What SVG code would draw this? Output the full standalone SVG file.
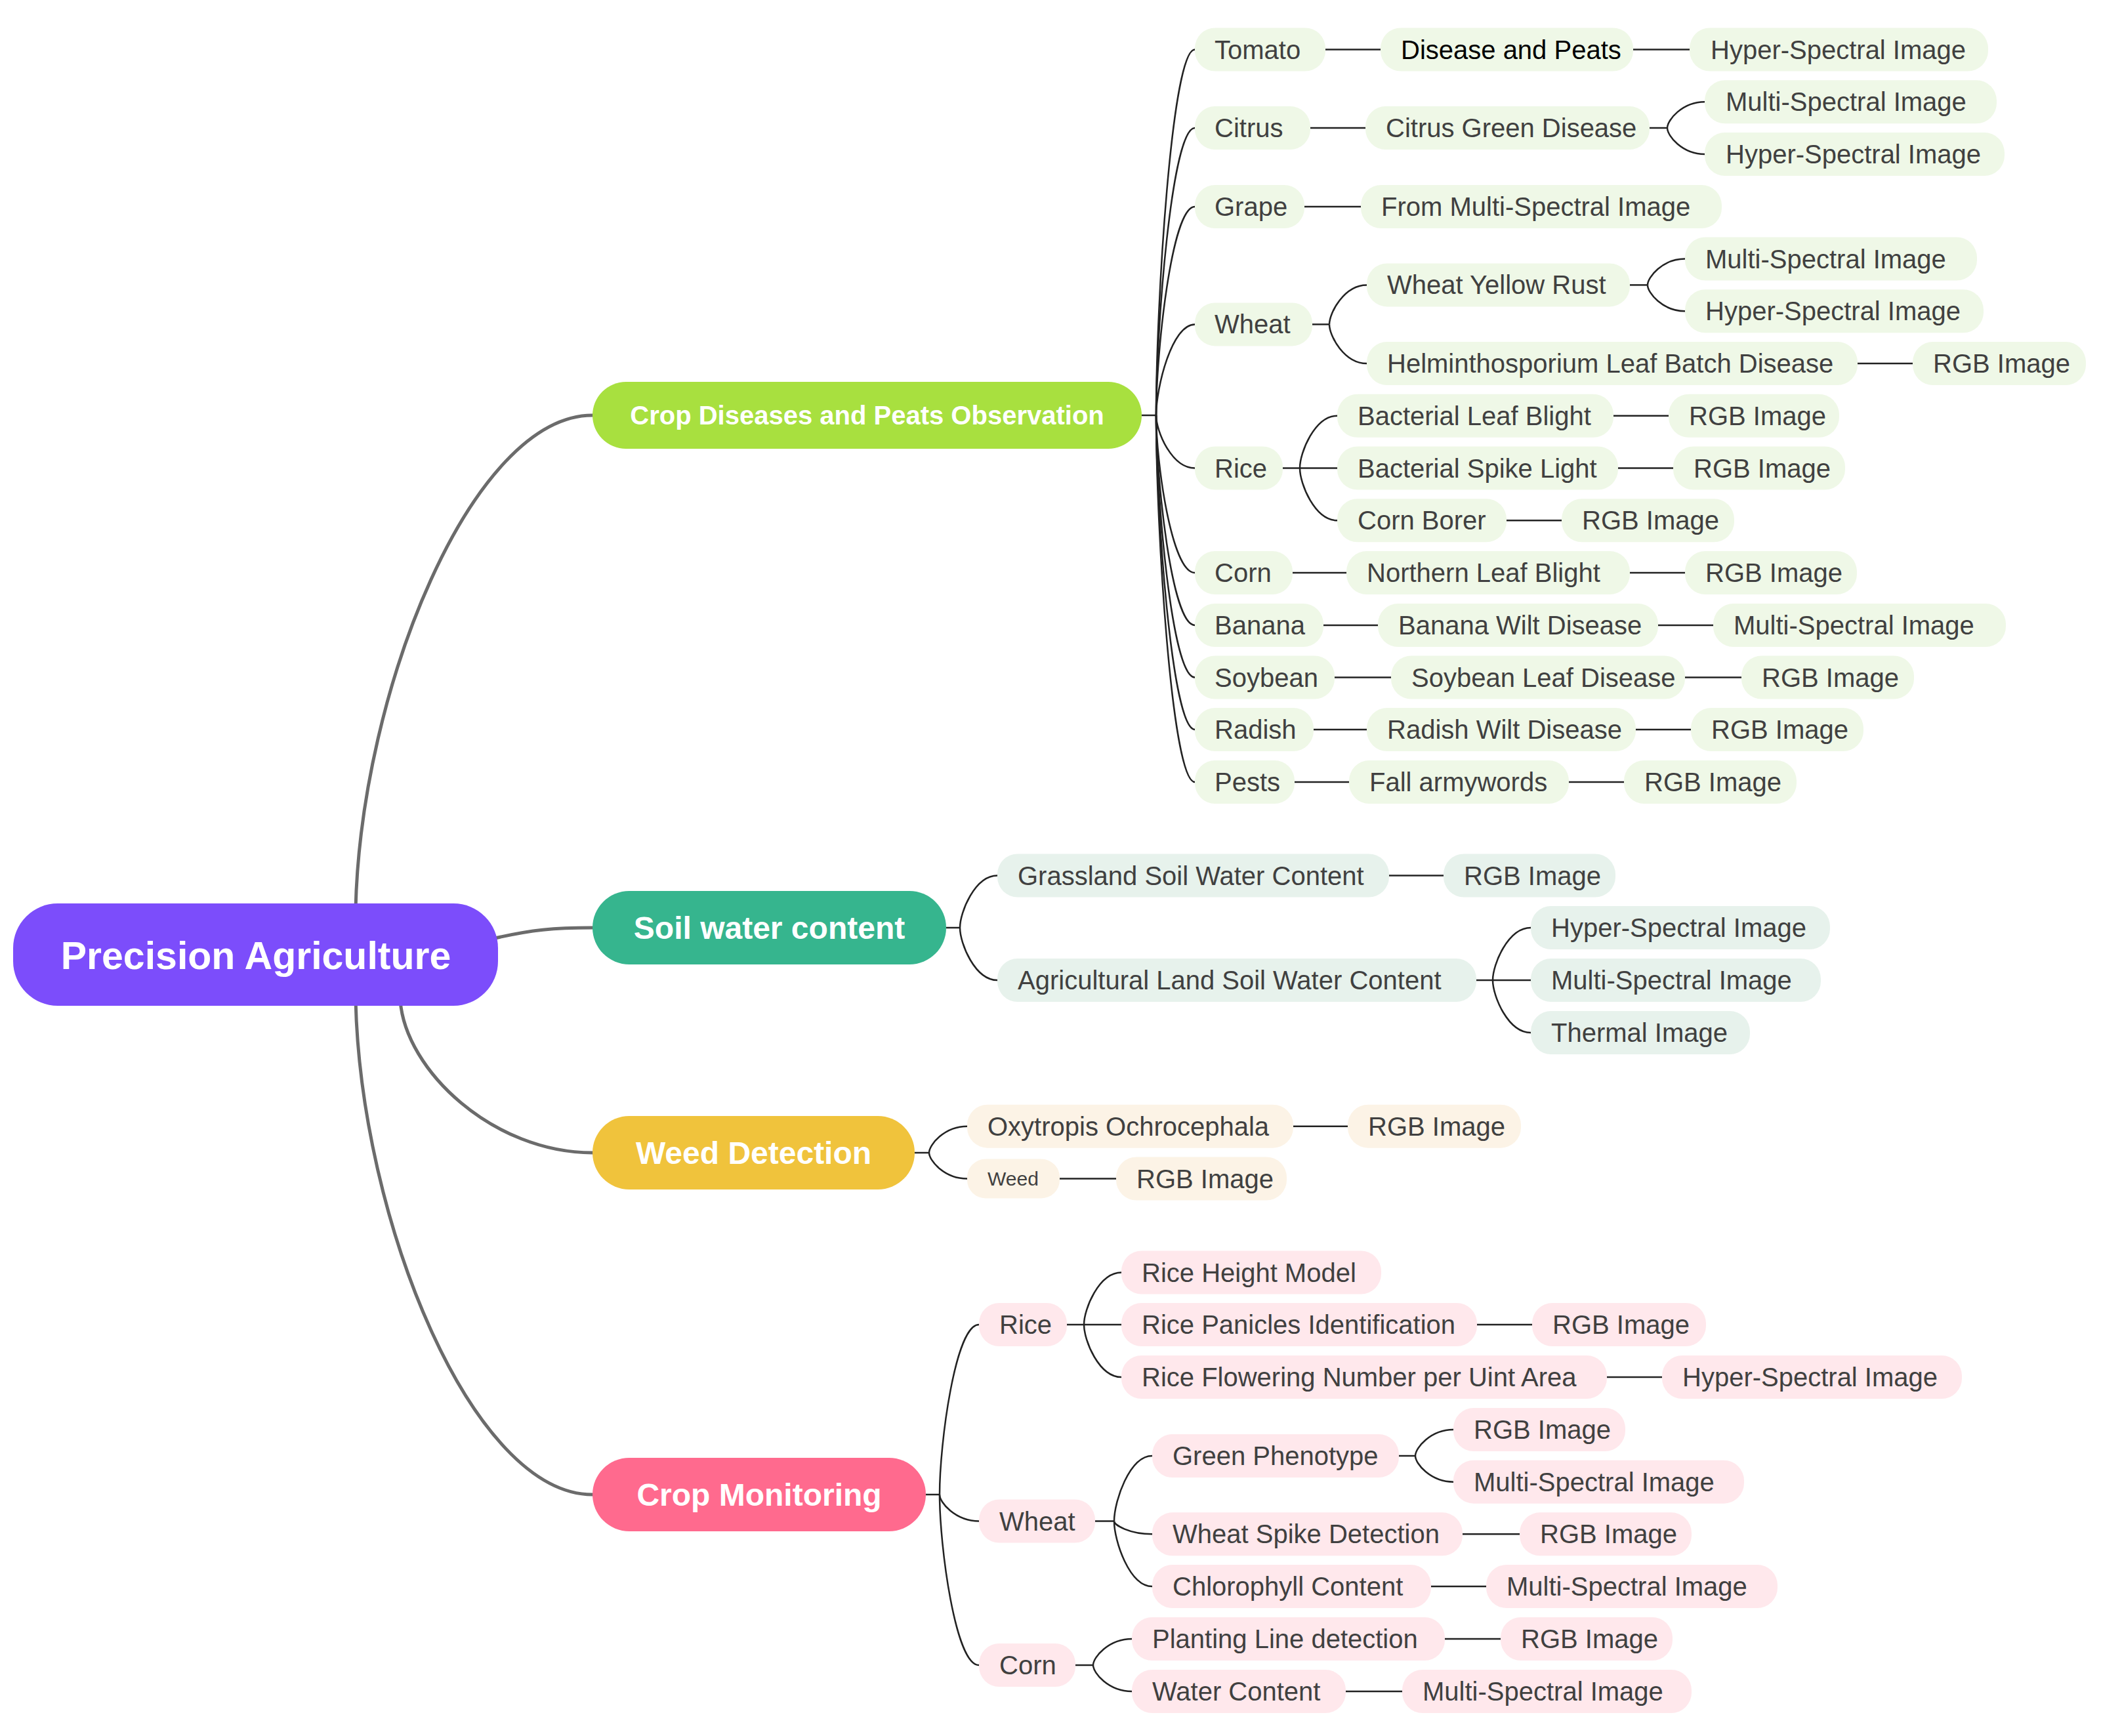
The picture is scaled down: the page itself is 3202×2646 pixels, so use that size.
<svg xmlns="http://www.w3.org/2000/svg" width="3202" height="2646" viewBox="0 0 3202 2646">
<style>
.bg{fill:#ffffff}
.c1{fill:none;stroke:#6b6b6b;stroke-width:5;stroke-linecap:round}
.c2{fill:none;stroke:#222222;stroke-width:2.5}
.t{font-family:"Liberation Sans",Arial,sans-serif;font-size:40px;fill:#404040}
.tk{fill:#000000}
.ts{font-size:30px}
.tb{font-family:"Liberation Sans",Arial,sans-serif;font-weight:bold;fill:#ffffff;text-anchor:middle}
.g rect{fill:#eff8e7}
.s rect{fill:#e7f2ec}
.w rect{fill:#fcf3e6}
.m rect{fill:#ffe8ec}
</style>
<rect class="bg" x="0" y="0" width="3202" height="2646"/>
<g id="connectors">
<g id="root-links">
<path class="c1" d="M542 1385 C550 1050 720 633 903 633"/>
<path class="c1" d="M750 1431 C810 1417 845 1414 903 1414"/>
<path class="c1" d="M610 1525 C618 1632 752 1757 903 1757"/>
<path class="c1" d="M542 1525 C550 1861 720 2278 903 2278"/>
</g>
<g id="cd-links">
<path class="c2" d="M1740 633 H1762"/>
<path class="c2" d="M1762 633 C1762 465.75 1785.6 75.5 1821 75.5"/>
<path class="c2" d="M1762 633 C1762 501.6 1785.6 195 1821 195"/>
<path class="c2" d="M1762 633 C1762 537.6 1785.6 315 1821 315"/>
<path class="c2" d="M1762 633 C1762 591.4 1785.6 494.4 1821 494.4"/>
<path class="c2" d="M1762 633 C1762 657.2 1785.6 713.5 1821 713.5"/>
<path class="c2" d="M1762 633 C1762 705 1785.6 873 1821 873"/>
<path class="c2" d="M1762 633 C1762 729 1785.6 953 1821 953"/>
<path class="c2" d="M1762 633 C1762 752.9 1785.6 1032.5 1821 1032.5"/>
<path class="c2" d="M1762 633 C1762 776.7 1785.6 1112 1821 1112"/>
<path class="c2" d="M1762 633 C1762 800.7 1785.6 1192 1821 1192"/>
<path class="c2" d="M2020 75.5 H2104 M2489 75.5 H2575"/>
<path class="c2" d="M1997 195 H2081 M2514 195 H2541"/>
<path class="c2" d="M2541 195 C2541 183.1 2563.8 155.25 2598 155.25"/>
<path class="c2" d="M2541 195 C2541 207 2563.8 235 2598 235"/>
<path class="c2" d="M1988 315 H2074"/>
<path class="c2" d="M2000 494.4 H2026"/>
<path class="c2" d="M2026 494.4 C2026 476.4 2048.8 434.4 2083 434.4"/>
<path class="c2" d="M2026 494.4 C2026 512.3 2048.8 554 2083 554"/>
<path class="c2" d="M2484 434.4 H2511"/>
<path class="c2" d="M2511 434.4 C2511 422.4 2533.8 394.5 2568 394.5"/>
<path class="c2" d="M2511 434.4 C2511 446.4 2533.8 474.25 2568 474.25"/>
<path class="c2" d="M2831 554 H2915"/>
<path class="c2" d="M1955 713.5 H2038"/>
<path class="c2" d="M1981 713.5 C1981 689.6 2003.8 633.75 2038 633.75"/>
<path class="c2" d="M1981 713.5 C1981 737.4 2003.8 793.25 2038 793.25"/>
<path class="c2" d="M2459 633.75 H2543 M2466 713.5 H2550 M2296 793.25 H2380"/>
<path class="c2" d="M1970 873 H2052 M2484 873 H2568"/>
<path class="c2" d="M2017 953 H2100 M2527 953 H2611"/>
<path class="c2" d="M2034 1032.5 H2120 M2568 1032.5 H2654"/>
<path class="c2" d="M2002 1112 H2083 M2493 1112 H2577"/>
<path class="c2" d="M1973 1192 H2056 M2391 1192 H2475"/>
</g>
<g id="soil-links">
<path class="c2" d="M1442 1414 H1463"/>
<path class="c2" d="M1463 1414 C1463 1390.2 1485.8 1334.5 1520 1334.5"/>
<path class="c2" d="M1463 1414 C1463 1438 1485.8 1494 1520 1494"/>
<path class="c2" d="M2117 1334.5 H2200"/>
<path class="c2" d="M2250 1494 H2333"/>
<path class="c2" d="M2275 1494 C2275 1470 2298.2 1414 2333 1414"/>
<path class="c2" d="M2275 1494 C2275 1518 2298.2 1574 2333 1574"/>
</g>
<g id="weed-links">
<path class="c2" d="M1394 1757 H1416"/>
<path class="c2" d="M1416 1757 C1416 1744.9 1439.2 1716.7 1474 1716.7"/>
<path class="c2" d="M1416 1757 C1416 1768.9 1439.2 1796.5 1474 1796.5"/>
<path class="c2" d="M1971 1716.7 H2054 M1615 1796.5 H1701"/>
</g>
<g id="cm-links">
<path class="c2" d="M1411 2278 H1432"/>
<path class="c2" d="M1432 2278 C1432 2200.3 1456 2019 1492 2019"/>
<path class="c2" d="M1432 2278 C1432 2290.2 1456 2318.5 1492 2318.5"/>
<path class="c2" d="M1432 2278 C1432 2356 1456 2538 1492 2538"/>
<path class="c2" d="M1626 2019 H1709"/>
<path class="c2" d="M1652 2019 C1652 1995.2 1674.8 1939.5 1709 1939.5"/>
<path class="c2" d="M1652 2019 C1652 2043 1674.8 2099 1709 2099"/>
<path class="c2" d="M2251 2019 H2335 M2449 2099 H2533"/>
<path class="c2" d="M1669 2318.5 H1698"/>
<path class="c2" d="M1698 2318.5 C1698 2288.7 1721.2 2219 1756 2219"/>
<path class="c2" d="M1698 2318.5 C1698 2324.4 1721.2 2338.3 1756 2338.3"/>
<path class="c2" d="M1698 2318.5 C1698 2348.4 1721.2 2418 1756 2418"/>
<path class="c2" d="M2132 2219 H2157"/>
<path class="c2" d="M2157 2219 C2157 2207 2180.2 2179 2215 2179"/>
<path class="c2" d="M2157 2219 C2157 2230.9 2180.2 2258.7 2215 2258.7"/>
<path class="c2" d="M2229 2338.3 H2316 M2181 2418 H2265"/>
<path class="c2" d="M1639 2538 H1666"/>
<path class="c2" d="M1666 2538 C1666 2526 1689.6 2498 1725 2498"/>
<path class="c2" d="M1666 2538 C1666 2550 1689.6 2578 1725 2578"/>
<path class="c2" d="M2202 2498 H2287 M2051 2578 H2137"/>
</g>
</g>

<g id="n-root"><rect x="20" y="1377" width="739" height="156" rx="68" fill="#7c4dfb"/><text class="tb" x="390" y="1477" font-size="59">Precision Agriculture</text></g>
<g id="n-cd"><rect x="903" y="582" width="837" height="102" rx="51" fill="#a8e03f"/><text class="tb" x="1321.5" y="647" font-size="40">Crop Diseases and Peats Observation</text></g>
<g id="n-soil"><rect x="903" y="1358" width="539" height="112" rx="56" fill="#36b58e"/><text class="tb" x="1172.5" y="1431" font-size="48">Soil water content</text></g>
<g id="n-weed"><rect x="903" y="1701" width="491" height="112" rx="56" fill="#f0c33c"/><text class="tb" x="1148.5" y="1774" font-size="48">Weed Detection</text></g>
<g id="n-cm"><rect x="903" y="2222" width="508" height="112" rx="56" fill="#ff6a8e"/><text class="tb" x="1157" y="2295" font-size="48">Crop Monitoring</text></g>

<g class="g">
<g id="n-tomato"><rect x="1821" y="42.5" width="199" height="66" rx="31"/><text class="t" x="1851" y="89.5">Tomato</text></g>
<g id="n-tomato-dp"><rect x="2104" y="42.5" width="385" height="66" rx="31"/><text class="t tk" x="2135" y="89.5">Disease and Peats</text></g>
<g id="n-tomato-hs"><rect x="2575" y="42.5" width="455" height="66" rx="31"/><text class="t" x="2607" y="89.5">Hyper-Spectral Image</text></g>
<g id="n-citrus"><rect x="1821" y="162" width="176" height="66" rx="31"/><text class="t" x="1851" y="209">Citrus</text></g>
<g id="n-citrus-cgd"><rect x="2081" y="162" width="433" height="66" rx="31"/><text class="t" x="2112" y="209">Citrus Green Disease</text></g>
<g id="n-citrus-ms"><rect x="2598" y="122.25" width="445" height="66" rx="31"/><text class="t" x="2630" y="169.25">Multi-Spectral Image</text></g>
<g id="n-citrus-hs"><rect x="2598" y="202" width="457" height="66" rx="31"/><text class="t" x="2630" y="249">Hyper-Spectral Image</text></g>
<g id="n-grape"><rect x="1821" y="282" width="167" height="66" rx="31"/><text class="t" x="1851" y="329">Grape</text></g>
<g id="n-grape-fms"><rect x="2074" y="282" width="550" height="66" rx="31"/><text class="t" x="2105" y="329">From Multi-Spectral Image</text></g>
<g id="n-wheat"><rect x="1821" y="461.4" width="179" height="66" rx="31"/><text class="t" x="1851" y="508.4">Wheat</text></g>
<g id="n-wheat-wyr"><rect x="2083" y="401.4" width="401" height="66" rx="31"/><text class="t" x="2114" y="448.4">Wheat Yellow Rust</text></g>
<g id="n-wheat-wyr-ms"><rect x="2568" y="361.5" width="445" height="66" rx="31"/><text class="t" x="2599" y="408.5">Multi-Spectral Image</text></g>
<g id="n-wheat-wyr-hs"><rect x="2568" y="441.25" width="455" height="66" rx="31"/><text class="t" x="2599" y="488.25">Hyper-Spectral Image</text></g>
<g id="n-wheat-hlb"><rect x="2083" y="521" width="748" height="66" rx="31"/><text class="t" x="2114" y="568">Helminthosporium Leaf Batch Disease</text></g>
<g id="n-wheat-hlb-rgb"><rect x="2915" y="521" width="264" height="66" rx="31"/><text class="t" x="2946" y="568">RGB Image</text></g>
<g id="n-rice"><rect x="1821" y="680.5" width="134" height="66" rx="31"/><text class="t" x="1851" y="727.5">Rice</text></g>
<g id="n-rice-blb"><rect x="2038" y="600.75" width="421" height="66" rx="31"/><text class="t" x="2069" y="647.75">Bacterial Leaf Blight</text></g>
<g id="n-rice-blb-rgb"><rect x="2543" y="600.75" width="260" height="66" rx="31"/><text class="t" x="2574" y="647.75">RGB Image</text></g>
<g id="n-rice-bsl"><rect x="2038" y="680.5" width="428" height="66" rx="31"/><text class="t" x="2069" y="727.5">Bacterial Spike Light</text></g>
<g id="n-rice-bsl-rgb"><rect x="2550" y="680.5" width="262" height="66" rx="31"/><text class="t" x="2581" y="727.5">RGB Image</text></g>
<g id="n-rice-cb"><rect x="2038" y="760.25" width="258" height="66" rx="31"/><text class="t" x="2069" y="807.25">Corn Borer</text></g>
<g id="n-rice-cb-rgb"><rect x="2380" y="760.25" width="263" height="66" rx="31"/><text class="t" x="2411" y="807.25">RGB Image</text></g>
<g id="n-corn"><rect x="1821" y="840" width="149" height="66" rx="31"/><text class="t" x="1851" y="887">Corn</text></g>
<g id="n-corn-nlb"><rect x="2052" y="840" width="432" height="66" rx="31"/><text class="t" x="2083" y="887">Northern Leaf Blight</text></g>
<g id="n-corn-nlb-rgb"><rect x="2568" y="840" width="262" height="66" rx="31"/><text class="t" x="2599" y="887">RGB Image</text></g>
<g id="n-banana"><rect x="1821" y="920" width="196" height="66" rx="31"/><text class="t" x="1851" y="967">Banana</text></g>
<g id="n-banana-bwd"><rect x="2100" y="920" width="427" height="66" rx="31"/><text class="t" x="2131" y="967">Banana Wilt Disease</text></g>
<g id="n-banana-bwd-ms"><rect x="2611" y="920" width="446" height="66" rx="31"/><text class="t" x="2642" y="967">Multi-Spectral Image</text></g>
<g id="n-soybean"><rect x="1821" y="999.5" width="213" height="66" rx="31"/><text class="t" x="1851" y="1046.5">Soybean</text></g>
<g id="n-soybean-sld"><rect x="2120" y="999.5" width="448" height="66" rx="31"/><text class="t" x="2151" y="1046.5">Soybean Leaf Disease</text></g>
<g id="n-soybean-sld-rgb"><rect x="2654" y="999.5" width="263" height="66" rx="31"/><text class="t" x="2685" y="1046.5">RGB Image</text></g>
<g id="n-radish"><rect x="1821" y="1079" width="181" height="66" rx="31"/><text class="t" x="1851" y="1126">Radish</text></g>
<g id="n-radish-rwd"><rect x="2083" y="1079" width="410" height="66" rx="31"/><text class="t" x="2114" y="1126">Radish Wilt Disease</text></g>
<g id="n-radish-rwd-rgb"><rect x="2577" y="1079" width="263" height="66" rx="31"/><text class="t" x="2608" y="1126">RGB Image</text></g>
<g id="n-pests"><rect x="1821" y="1159" width="152" height="66" rx="31"/><text class="t" x="1851" y="1206">Pests</text></g>
<g id="n-pests-fa"><rect x="2056" y="1159" width="335" height="66" rx="31"/><text class="t" x="2087" y="1206">Fall armywords</text></g>
<g id="n-pests-fa-rgb"><rect x="2475" y="1159" width="263" height="66" rx="31"/><text class="t" x="2506" y="1206">RGB Image</text></g>
</g>

<g class="s">
<g id="n-grass"><rect x="1520" y="1301.5" width="597" height="66" rx="31"/><text class="t" x="1551" y="1348.5">Grassland Soil Water Content</text></g>
<g id="n-grass-rgb"><rect x="2200" y="1301.5" width="262" height="66" rx="31"/><text class="t" x="2231" y="1348.5">RGB Image</text></g>
<g id="n-agri"><rect x="1520" y="1461" width="730" height="66" rx="31"/><text class="t" x="1551" y="1508">Agricultural Land Soil Water Content</text></g>
<g id="n-agri-hs"><rect x="2333" y="1381" width="456" height="66" rx="31"/><text class="t" x="2364" y="1428">Hyper-Spectral Image</text></g>
<g id="n-agri-ms"><rect x="2333" y="1461" width="442" height="66" rx="31"/><text class="t" x="2364" y="1508">Multi-Spectral Image</text></g>
<g id="n-agri-th"><rect x="2333" y="1541" width="334" height="66" rx="31"/><text class="t" x="2364" y="1588">Thermal Image</text></g>
</g>

<g class="w">
<g id="n-oxy"><rect x="1474" y="1683.7" width="497" height="66" rx="31"/><text class="t" x="1505" y="1730.7">Oxytropis Ochrocephala</text></g>
<g id="n-oxy-rgb"><rect x="2054" y="1683.7" width="264" height="66" rx="31"/><text class="t" x="2085" y="1730.7">RGB Image</text></g>
<g id="n-weedleaf"><rect x="1474" y="1766.5" width="141" height="60" rx="28"/><text class="t ts" x="1505" y="1807">Weed</text></g>
<g id="n-weedleaf-rgb"><rect x="1701" y="1763.5" width="260" height="66" rx="31"/><text class="t" x="1732" y="1810.5">RGB Image</text></g>
</g>

<g class="m">
<g id="n-m-rice"><rect x="1492" y="1986" width="134" height="66" rx="31"/><text class="t" x="1523" y="2033">Rice</text></g>
<g id="n-m-rhm"><rect x="1709" y="1906.5" width="396" height="66" rx="31"/><text class="t" x="1740" y="1953.5">Rice Height Model</text></g>
<g id="n-m-rpi"><rect x="1709" y="1986" width="542" height="66" rx="31"/><text class="t" x="1740" y="2033">Rice Panicles Identification</text></g>
<g id="n-m-rpi-rgb"><rect x="2335" y="1986" width="265" height="66" rx="31"/><text class="t" x="2366" y="2033">RGB Image</text></g>
<g id="n-m-rfn"><rect x="1709" y="2066" width="740" height="66" rx="31"/><text class="t" x="1740" y="2113">Rice Flowering Number per Uint Area</text></g>
<g id="n-m-rfn-hs"><rect x="2533" y="2066" width="457" height="66" rx="31"/><text class="t" x="2564" y="2113">Hyper-Spectral Image</text></g>
<g id="n-m-wheat"><rect x="1492" y="2285.5" width="177" height="66" rx="31"/><text class="t" x="1523" y="2332.5">Wheat</text></g>
<g id="n-m-gp"><rect x="1756" y="2186" width="376" height="66" rx="31"/><text class="t" x="1787" y="2233">Green Phenotype</text></g>
<g id="n-m-gp-rgb"><rect x="2215" y="2146" width="262" height="66" rx="31"/><text class="t" x="2246" y="2193">RGB Image</text></g>
<g id="n-m-gp-ms"><rect x="2215" y="2225.7" width="443" height="66" rx="31"/><text class="t" x="2246" y="2272.7">Multi-Spectral Image</text></g>
<g id="n-m-wsd"><rect x="1756" y="2305.3" width="473" height="66" rx="31"/><text class="t" x="1787" y="2352.3">Wheat Spike Detection</text></g>
<g id="n-m-wsd-rgb"><rect x="2316" y="2305.3" width="262" height="66" rx="31"/><text class="t" x="2347" y="2352.3">RGB Image</text></g>
<g id="n-m-cc"><rect x="1756" y="2385" width="425" height="66" rx="31"/><text class="t" x="1787" y="2432">Chlorophyll Content</text></g>
<g id="n-m-cc-ms"><rect x="2265" y="2385" width="444" height="66" rx="31"/><text class="t" x="2296" y="2432">Multi-Spectral Image</text></g>
<g id="n-m-corn"><rect x="1492" y="2505" width="147" height="66" rx="31"/><text class="t" x="1523" y="2552">Corn</text></g>
<g id="n-m-pld"><rect x="1725" y="2465" width="477" height="66" rx="31"/><text class="t" x="1756" y="2512">Planting Line detection</text></g>
<g id="n-m-pld-rgb"><rect x="2287" y="2465" width="262" height="66" rx="31"/><text class="t" x="2318" y="2512">RGB Image</text></g>
<g id="n-m-wc"><rect x="1725" y="2545" width="326" height="66" rx="31"/><text class="t" x="1756" y="2592">Water Content</text></g>
<g id="n-m-wc-ms"><rect x="2137" y="2545" width="441" height="66" rx="31"/><text class="t" x="2168" y="2592">Multi-Spectral Image</text></g>
</g>
</svg>
